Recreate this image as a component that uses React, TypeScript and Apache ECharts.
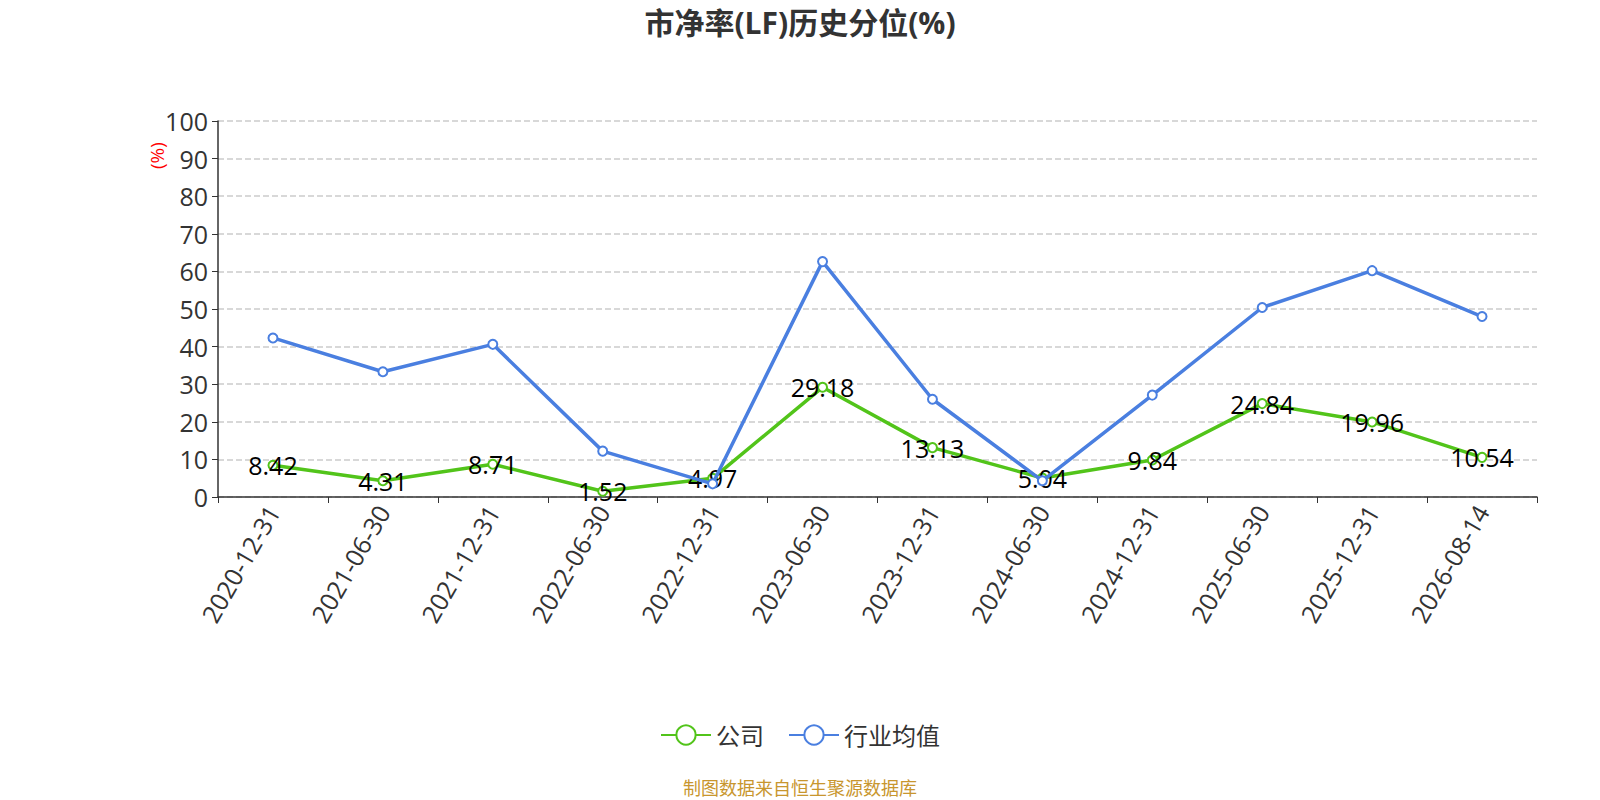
import React, { useEffect, useRef } from "react";
import * as echarts from "echarts";

const categories = [
  "2020-12-31", "2021-06-30", "2021-12-31", "2022-06-30", "2022-12-31", "2023-06-30",
  "2023-12-31", "2024-06-30", "2024-12-31", "2025-06-30", "2025-12-31", "2026-08-14",
];
const companyValues = [8.42, 4.31, 8.71, 1.52, 4.97, 29.18, 13.13, 5.04, 9.84, 24.84, 19.96, 10.54];
const industryValues = [42.3, 33.3, 40.6, 12.2, 3.5, 62.6, 26.0, 4.3, 27.1, 50.4, 60.2, 48.0];
const seriesNames = ["公司", "行业均值"];
const titleText = "市净率(LF)历史分位(%)";
const yAxisName = "(%)";
const footerText = "制图数据来自恒生聚源数据库";

const FONT = "'Open Sans', 'Noto Sans CJK SC', sans-serif";

export default function App() {
  const ref = useRef<HTMLDivElement>(null);
  useEffect(() => {
    document.body.style.margin = "0";
    if (!ref.current) return;
    const chart = echarts.init(ref.current, undefined, { renderer: "svg" });
    chart.setOption({
      animation: false,
      textStyle: { fontFamily: FONT },
      title: {
        text: titleText,
        left: "center",
        top: 2,
        textStyle: { fontSize: 30, fontWeight: "bold", color: "#333", fontFamily: FONT },
      },
      legend: {
        bottom: 48,
        left: "center",
        itemWidth: 50,
        itemHeight: 24,
        itemGap: 24,
        textStyle: { fontSize: 24, color: "#333", fontFamily: FONT },
        data: seriesNames,
      },
      grid: { left: 218, right: 63, top: 121, bottom: 303 },
      xAxis: {
        type: "category",
        data: categories,
        boundaryGap: true,
        axisLine: { lineStyle: { color: "#333", width: 1.5 } },
        axisTick: { show: true, length: 6, lineStyle: { color: "#333" } },
        axisLabel: { rotate: 60, fontSize: 25, color: "#333", margin: 10, fontFamily: FONT },
      },
      yAxis: {
        type: "value",
        min: 0,
        max: 100,
        interval: 10,
        axisLine: { show: true, lineStyle: { color: "#333", width: 1.5 } },
        axisTick: { show: true, length: 6, lineStyle: { color: "#333" } },
        axisLabel: { fontSize: 25, color: "#333", margin: 10, fontFamily: FONT },
        splitLine: { show: true, lineStyle: { type: "dashed", color: "#ccc", width: 1.5 } },
      },
      graphic: [
        {
          type: "text",
          x: 147,
          y: 169,
          rotation: Math.PI / 2,
          style: { text: yAxisName, fill: "#ff0000", fontSize: 19, fontFamily: FONT },
        },
        {
          type: "text",
          left: "center",
          top: 779,
          style: { text: footerText, fill: "#c8962e", fontSize: 18, fontFamily: FONT },
        },
      ],
      series: [
        {
          name: seriesNames[0],
          type: "line",
          data: companyValues,
          symbol: "emptyCircle",
          symbolSize: 9,
          itemStyle: { color: "#52c41a", borderWidth: 2 },
          lineStyle: { width: 3.5, color: "#52c41a" },
          label: {
            show: true,
            position: "inside",
            fontSize: 25,
            color: "#000",
            fontFamily: FONT,
          },
          z: 2,
        },
        {
          name: seriesNames[1],
          type: "line",
          data: industryValues,
          symbol: "emptyCircle",
          symbolSize: 9,
          itemStyle: { color: "#4a7fe0", borderWidth: 2 },
          lineStyle: { width: 3.5, color: "#4a7fe0" },
          label: { show: false },
          z: 3,
        },
      ],
    });
    return () => chart.dispose();
  }, []);
  return <div ref={ref} style={{ width: 1600, height: 800 }} />;
}
